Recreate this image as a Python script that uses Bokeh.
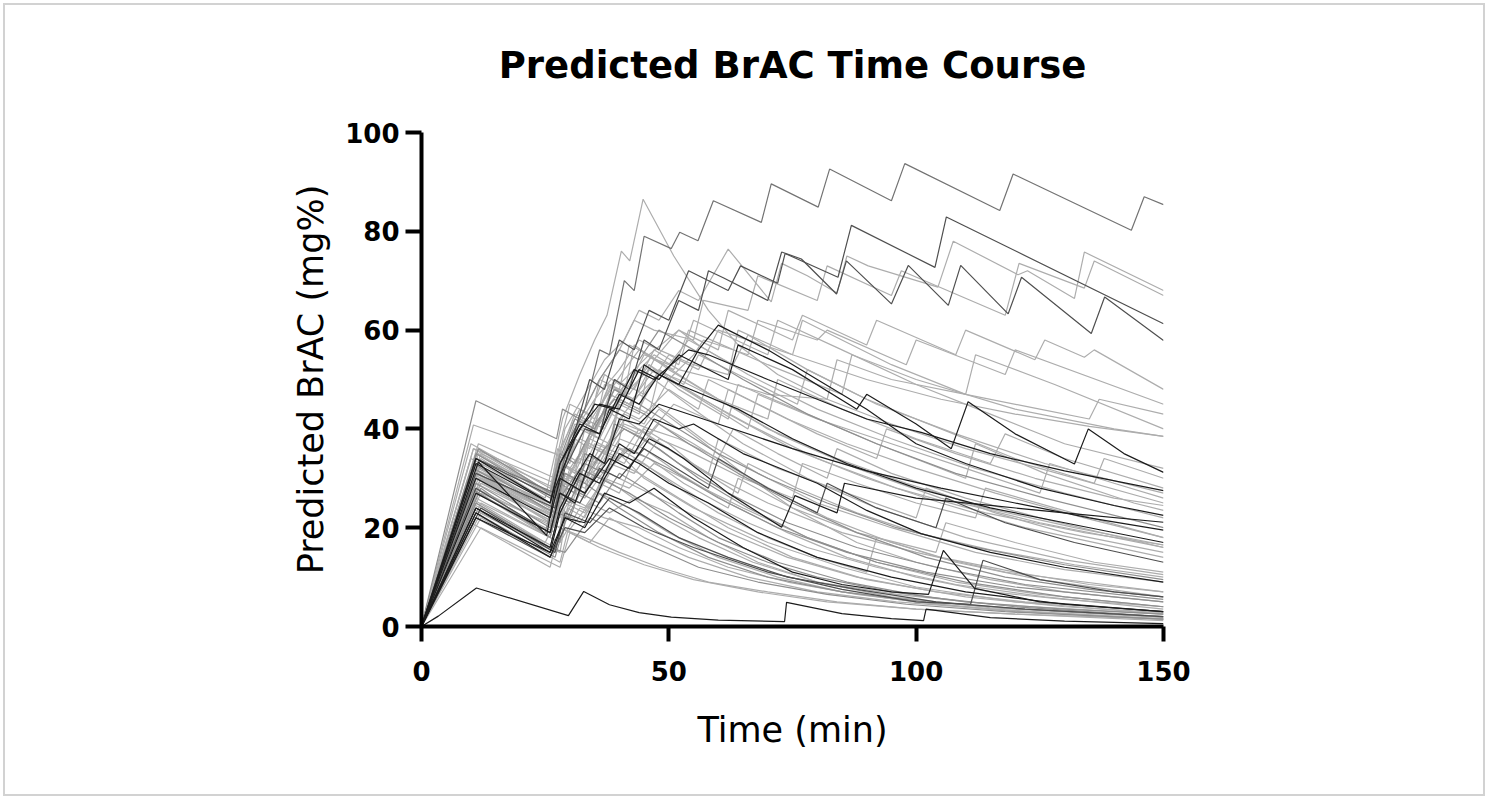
from bokeh.plotting import figure
from bokeh.models import Range1d, FixedTicker, InlineStyleSheet
from bokeh.embed import file_html
from bokeh.resources import INLINE

# ---------------- data ----------------
title_text = "Predicted BrAC Time Course"
x_label = "Time (min)"
y_label = "Predicted BrAC (mg%)"
x_ticks = [0, 50, 100, 150]
y_ticks = [0, 20, 40, 60, 80, 100]

t01 = [0, 11, 27, 30, 33, 36, 38, 41, 43, 45, 50.5, 52.2, 55.9, 59, 68.7, 70.7, 80.2, 82.5, 95, 97.7, 116.9, 119.6, 143.5, 146.1, 150]
v01 = [0, 34, 27, 38, 44, 56, 55, 70, 68, 79, 76.5, 79.8, 78.1, 86.2, 81.8, 89.6, 84.9, 92.6, 86.2, 93.7, 84.2, 91.6, 80.2, 87, 85.4]
t02 = [0, 10.5, 27, 28.5, 32, 35, 37.5, 40.4, 42.1, 44.8, 51, 58, 64, 72, 82, 95, 110, 125, 150]
v02 = [0, 40.8, 35, 42, 51, 58, 63, 76, 74, 86.5, 75, 64, 57, 51, 46, 41, 36, 32, 25]
t03 = [0, 11, 27, 30, 34, 37, 40, 43, 46, 50, 54, 62, 64.5, 72, 73.5, 84.2, 86.9, 103.8, 106.1, 150]
v03 = [0, 34, 26, 36, 50, 48, 58, 56, 64, 62, 72, 68, 73, 69.5, 75.5, 70.7, 81.2, 72.7, 82.9, 61.3]
t04 = [0, 11, 27, 29, 33, 36, 39, 42, 45, 48, 52, 56, 58, 61, 70, 72.8, 76.8, 83.9, 85.9, 95, 98.4, 106.5, 109, 118.6, 121.3, 135.4, 138.1, 150]
v04 = [0, 31, 24, 32, 40, 39, 50, 48, 58, 56, 66, 64, 72, 70.6, 66, 75.8, 74.4, 67.3, 74, 65.3, 73.1, 65, 73.1, 63.3, 70.7, 59.3, 66.7, 57.9]
t05 = [0, 11.5, 27, 29, 33, 37, 41, 44, 48, 52, 56, 62, 70.7, 72.8, 78, 84, 86, 90.3, 104.4, 107.5, 120.6, 122.5, 132, 134, 150]
v05 = [0, 37, 30, 40, 47, 54, 58, 64, 62, 68, 66, 76.4, 65.7, 73.5, 71, 67.5, 75, 73, 68.7, 78, 71.2, 72, 66.4, 75.8, 68]
t06 = [0, 12, 27, 29, 33, 36, 40, 43, 47, 55, 57, 66, 68, 80, 82, 95, 97, 118, 120.8, 134, 136, 150]
v06 = [0, 35, 28, 36, 44, 50, 56, 62, 60, 58, 66, 64, 71, 66, 73, 67, 72, 63, 73.5, 68.5, 74, 67]
t07 = [0, 10, 26, 29, 33, 37, 41, 44, 47, 52, 60, 62, 75, 77, 90, 92, 108, 110, 124, 126, 134, 136, 150]
v07 = [0, 32, 25, 33, 40, 46, 52, 56, 54, 60, 56, 64, 58, 63, 57, 62, 55, 60, 54, 58, 54.5, 56, 48]
t08 = [0, 11, 27, 30, 34, 38, 42, 46, 50, 55, 57, 66, 68, 80, 82, 98, 100, 118, 120, 150]
v08 = [0, 30, 23, 32, 38, 44, 48, 52, 50, 55, 58, 55, 62, 58, 60, 53, 58, 51, 56, 45]
t09 = [0, 12, 28, 30, 34, 38, 42, 47, 52, 60, 70, 82, 84, 95, 110, 125, 135, 137, 150]
v09 = [0, 29, 22, 31, 38, 45, 50, 55, 52, 50, 47, 46, 54, 50, 47, 44, 42, 46, 43]
t10 = [0, 10.5, 27, 30, 35, 40, 44, 48, 55, 62, 64, 75, 90, 105, 120, 135, 150]
v10 = [0, 36, 29, 38, 46, 52, 58, 56, 53, 51, 60, 55, 50, 46, 43, 40.5, 38.5]
t11 = [0, 11, 26, 28, 32, 36, 40, 44, 48, 52, 62, 64, 75, 88, 90, 100, 107.1, 110.5, 120, 132, 134.8, 142, 150]
v11 = [0, 33, 25, 33, 40, 45, 44, 52, 50, 55, 50, 57, 52, 44, 47, 41, 36, 45.5, 39, 32.9, 40, 35, 31.2]
t12 = [0, 11.5, 25.3, 27, 31, 35, 39, 43, 47, 54, 58, 70, 80, 90, 101, 115, 130, 150]
v12 = [0, 33.3, 18.4, 28, 38, 45, 44, 52, 50, 56, 55, 50, 46, 42, 39.3, 35, 31.5, 27.5]
t13 = [0, 11, 26, 28, 33, 38, 42, 46, 50, 53, 62, 72.8, 75.5, 84, 85.5, 100, 115, 130, 150]
v13 = [0, 30, 22, 30, 27, 34, 32, 38, 36, 34, 27, 20.1, 26.5, 23, 29, 26, 24.5, 23, 21.1]
t14 = [0, 11, 26, 28, 31, 34, 37, 40, 44, 48, 60, 75, 90, 105, 120, 135, 150]
v14 = [0, 24, 16, 24, 30, 35, 33, 42, 41, 45, 41, 36, 31.5, 28, 25, 22, 19.5]
t15 = [0, 11, 26, 28, 32, 36, 40, 43, 47, 52, 55, 65, 80, 90, 101, 115, 130, 150]
v15 = [0, 22, 15, 23, 31, 29, 37, 35, 42, 40, 41, 35, 29, 23.5, 18.8, 15, 12, 9]
t16 = [0, 11, 26, 29, 33, 37, 42, 47, 55, 65, 75, 85, 95, 102.5, 105.5, 111.8, 125, 150]
v16 = [0, 24, 15, 22, 20, 27, 25, 28, 22, 16, 11, 8.5, 7, 6.5, 15.4, 7.7, 5, 3]
t17 = [0, 11, 26, 29, 33, 38, 45, 55, 70, 85, 100, 111, 113.5, 125, 140, 150]
v17 = [0, 22, 14, 20, 19, 24, 20, 16, 11, 7.5, 5, 4.5, 13.4, 9.5, 7, 6]
t18 = [0, 3.4, 11.1, 29.7, 32.8, 38, 44, 50.5, 60, 73.4, 73.8, 85, 95, 101.5, 102, 115, 130, 150]
v18 = [0, 2.1, 7.8, 2.2, 7.1, 4.4, 2.8, 1.9, 1.3, 1.0, 4.9, 2.6, 1.6, 1.2, 3.5, 1.8, 1.1, 0.6]
t19 = [0, 12, 26, 28, 32, 36, 42, 50, 60, 70, 80, 95, 110, 130, 150]
v19 = [0, 28, 18, 26, 32, 30, 27, 22, 17, 13, 10, 7, 5, 3.5, 2.5]
t20 = [0, 10, 27, 29, 33, 38, 44, 52, 62, 75, 90, 110, 130, 150]
v20 = [0, 25, 16, 24, 30, 34, 31, 26, 20, 14, 9.5, 6, 4, 2.8]
t21 = [0, 11.5, 26, 28, 31, 35, 40, 45, 55, 70, 85, 100, 120, 150]
v21 = [0, 31, 22, 30, 28, 37, 35, 30, 24, 17, 12, 8, 5, 2.5]
t22 = [0, 12, 28, 29.5, 34, 38, 43, 50, 58, 68, 80, 95, 115, 150]
v22 = [0, 22, 13, 19, 25, 23, 26, 23, 18, 13, 9, 6, 3.8, 1.8]
t23 = [0, 10.5, 25, 30, 33, 37, 41, 48, 56, 66, 78, 92, 110, 130, 150]
v23 = [0, 33, 24, 22, 30, 36, 40, 36, 30, 24, 18, 13, 9, 6, 4]
t24 = [0, 11, 27, 28.5, 32, 36, 40, 44, 48, 56, 65, 75, 88, 100, 115, 130, 150]
v24 = [0, 27, 19, 28, 34, 33, 41, 39, 44, 38, 31, 24, 17, 13, 9.5, 7, 5]
t25 = [0, 12, 26, 29, 33, 37, 40, 45, 52, 62, 74, 86, 100, 115, 130, 150]
v25 = [0, 30, 21, 29, 27, 33, 38, 36, 31, 25, 19, 14, 10, 7, 5.5, 4]
t26 = [0, 10, 27, 29, 32, 36, 42, 50, 60, 72, 85, 100, 120, 150]
v26 = [0, 24, 15, 23, 21, 27, 24, 19, 14, 10, 7, 5, 3, 1.5]
t27 = [0, 11.5, 26, 28, 31, 35, 39, 45, 54, 64, 75, 88, 102, 118, 135, 150]
v27 = [0, 36, 27, 35, 33, 41, 46, 43, 37, 31, 25, 19, 14, 10, 7.5, 6]
t28 = [0, 11, 27, 29, 33, 37, 41, 46, 52, 60, 63, 72, 82, 84, 95, 110, 125, 150]
v28 = [0, 29, 21, 29, 37, 35, 42, 40, 38, 34, 40, 35, 30, 36, 31, 26, 22, 16]
t29 = [0, 10.5, 26, 28, 32, 36, 40, 44, 50, 56, 58, 68, 80, 92, 94, 108, 124, 140, 150]
v29 = [0, 32, 23, 31, 38, 36, 44, 42, 48, 44, 50, 45, 39, 34, 40, 35, 30, 26, 24.5]
t30 = [0, 11, 27, 29, 33, 38, 43, 48, 55, 65, 75, 77, 88, 100, 112, 114, 128, 150]
v30 = [0, 28, 20, 28, 26, 33, 31, 38, 35, 30, 26, 33, 29, 25, 22, 28, 24, 18]
t31 = [0, 12, 26, 28, 31, 35, 38, 42, 47, 52, 60, 70, 72, 85, 100, 115, 118, 130, 150]
v31 = [0, 34, 25, 33, 41, 39, 47, 45, 52, 50, 46, 42, 50, 44, 38, 33, 39, 34, 28]
t32 = [0, 11, 27, 29, 33, 37, 41, 45, 50, 58, 66, 68, 80, 95, 110, 125, 127, 140, 150]
v32 = [0, 31, 23, 31, 29, 36, 43, 41, 50, 45, 40, 47, 42, 37, 32, 27, 33, 29, 26]
t33 = [0, 11, 26, 28, 32, 36, 40, 44, 48, 53, 56, 66, 76, 78, 90, 105, 120, 136, 138, 150]
v33 = [0, 33, 24, 32, 40, 38, 46, 44, 52, 49, 55, 50, 45, 52, 46, 40, 34, 29, 34, 30]
t34 = [0, 10, 25, 29, 33, 37, 42, 47, 55, 65, 78, 92, 108, 125, 150]
v34 = [0, 26, 17, 25, 23, 30, 28, 33, 29, 24, 18, 13, 9, 6.5, 4]
t35 = [0, 11, 27, 29, 32, 36, 40, 45, 52, 60, 72, 86, 102, 120, 150]
v35 = [0, 23, 14, 21, 27, 25, 31, 28, 23, 18, 13, 9, 6, 4, 2]
t36 = [0, 11.5, 26, 28, 32, 37, 44, 52, 62, 74, 88, 104, 122, 150]
v36 = [0, 27, 18, 17, 24, 22, 20, 16, 12, 9, 6.5, 4.5, 3, 1.5]
t37 = [0, 12, 28, 30, 34, 38, 45, 54, 66, 80, 96, 115, 150]
v37 = [0, 20, 12, 19, 17, 22, 18, 14, 10, 7, 5, 3.5, 1.5]
t38 = [0, 10, 26, 28, 33, 40, 48, 58, 70, 84, 100, 120, 150]
v38 = [0, 21, 12, 20, 18, 15, 12, 9, 7, 5, 3.5, 2.5, 1.2]
t39 = [0, 11, 26, 29, 34, 40, 47, 56, 68, 82, 98, 118, 150]
v39 = [0, 25, 16, 15, 22, 19, 16, 12, 9, 6.5, 4.5, 3, 1.5]
t40 = [0, 11, 26, 28, 32, 36, 40, 45, 50, 58, 60, 70, 80, 82, 92, 104, 106, 118, 132, 150]
v40 = [0, 28, 19, 27, 25, 32, 30, 36, 33, 28, 34, 28, 23, 29, 24, 20, 26, 21, 17, 13]
t41 = [0, 12, 27, 29, 33, 37, 41, 45, 50, 56, 64, 66, 76, 88, 100, 115, 132, 150]
v41 = [0, 30, 22, 30, 28, 35, 33, 40, 37, 32, 27, 33, 28, 23, 19, 15.5, 12.5, 10]
t42 = [0, 11, 26, 28, 32, 36, 40, 45, 52, 60, 70, 80, 90, 92, 105, 120, 135, 150]
v42 = [0, 25, 16, 24, 31, 29, 36, 33, 28, 23, 18, 14, 11, 18, 14, 11, 8.5, 7]
t43 = [0, 10.5, 28, 29.5, 33, 38, 43, 48, 55, 63, 72, 82, 95, 108, 125, 150]
v43 = [0, 32, 24, 23, 31, 37, 35, 41, 37, 32, 27, 22, 17, 13, 9.5, 6]
t44 = [0, 11, 26, 28, 31, 35, 39, 44, 52, 60, 70, 82, 96, 112, 130, 150]
v44 = [0, 35, 26, 34, 42, 40, 48, 45, 40, 35, 30, 25, 20, 16, 12.5, 9.5]
t45 = [0, 12, 27, 29, 33, 37, 41, 46, 51, 60, 62, 74, 86, 100, 116, 134, 150]
v45 = [0, 29, 21, 29, 27, 34, 41, 39, 45, 41, 48, 42, 37, 32, 27, 22, 18]
t46 = [0, 11, 26, 28, 32, 36, 40, 44, 48, 52, 56, 60, 70, 80, 90, 100, 110, 125, 140, 150]
v46 = [0, 34, 25, 33, 41, 39, 47, 45, 51, 49, 56, 61, 56, 50, 44, 37, 33, 28, 24.5, 22.5]
t47 = [0, 11, 26, 28, 31, 35, 38, 42, 45, 48, 52, 64, 75, 86, 100, 115, 130, 150]
v47 = [0, 27, 19, 27, 25, 36, 44, 42, 53, 51, 49, 44, 38, 33, 28, 24, 21, 17]
t48 = [0, 11, 26, 29, 33, 37, 40, 44, 50, 58, 68, 80, 95, 110, 130, 150]
v48 = [0, 23, 14, 22, 21, 30, 35, 33, 29, 25, 19, 14, 10, 7, 4.5, 3]
t49 = [0, 10, 26, 28, 30, 34, 37, 40, 46, 52, 60, 70, 84, 98, 114, 132, 150]
v49 = [0, 37, 28, 37, 45, 43, 51, 49, 55, 51, 46, 40, 34, 29, 24, 20, 16.5]
t50 = [0, 11, 27.3, 28.5, 32, 36, 40, 44, 48, 55, 65, 78, 92, 108, 126, 150]
v50 = [0, 45.7, 38, 44, 42, 50, 56, 54, 60, 56, 50, 43, 37, 31, 26, 20]
t51 = [0, 11.5, 26, 28, 32, 35, 39, 43, 47, 52, 55, 70, 72, 85, 100, 115, 130, 150]
v51 = [0, 36, 27, 36, 44, 42, 50, 48, 56, 53, 62, 55, 62, 56, 49, 43, 37, 32]
t52 = [0, 11, 27, 29, 33, 37, 41, 45, 50, 56, 60, 75, 77, 95, 110, 112, 128, 150]
v52 = [0, 34, 26, 34, 42, 40, 49, 47, 55, 52, 60, 55, 62, 53, 47, 55, 49, 40]
t53 = [0, 12, 26, 28, 31, 35, 39, 43, 47, 51, 54, 70, 85, 87, 100, 120, 140, 150]
v53 = [0, 33, 25, 33, 31, 40, 48, 46, 54, 52, 60, 53, 47, 55, 50, 44, 40, 38.5]
t54 = [0, 11, 26, 30, 36, 45, 55, 68, 82, 100, 120, 150]
v54 = [0, 30, 21, 19, 16, 12.5, 9.5, 7, 5, 3.5, 2.5, 1.5]
t55 = [0, 10.5, 27, 29, 33, 40, 48, 58, 70, 85, 102, 122, 150]
v55 = [0, 32, 23, 31, 29, 24, 19, 14, 10, 7, 5, 3.5, 2]
t56 = [0, 11, 26, 28, 32, 35, 40, 47, 56, 67, 80, 96, 115, 150]
v56 = [0, 28, 19, 27, 25, 31, 28, 23, 18, 13, 9, 6.5, 4.5, 2.5]
t57 = [0, 12, 27, 29, 34, 38, 44, 52, 62, 74, 88, 104, 122, 150]
v57 = [0, 24, 15, 23, 21, 26, 23, 18, 14, 10, 7.5, 5, 3.5, 2]
t58 = [0, 11, 26, 28, 33, 37, 41, 46, 53, 62, 64, 75, 88, 104, 106, 120, 136, 150]
v58 = [0, 26, 18, 26, 24, 30, 36, 34, 29, 24, 30, 24, 19, 15, 21, 17, 13, 11]
t59 = [0, 10, 27, 29, 32, 36, 40, 44, 50, 58, 60, 72, 86, 100, 102, 116, 130, 150]
v59 = [0, 31, 23, 31, 29, 36, 34, 40, 36, 31, 38, 32, 27, 22, 28, 23, 19, 15]
t60 = [0, 11, 26, 28, 31, 35, 38, 42, 46, 52, 62, 64, 78, 92, 110, 112, 126, 144, 150]
v60 = [0, 35, 27, 35, 43, 41, 49, 47, 53, 48, 42, 49, 43, 37, 30, 37, 31, 25, 23.5]
t61 = [0, 10.5, 26, 27.5, 31, 33, 36, 38, 42, 47, 55, 65, 78, 92, 110, 130, 150]
v61 = [0, 33, 24, 34, 31, 40, 38, 47, 45, 50, 44, 37, 30, 24, 18, 13.5, 10.5]
t62 = [0, 11.5, 27, 28, 32, 34, 38, 40, 44, 46, 52, 62, 75, 90, 105, 122, 150]
v62 = [0, 30, 22, 31, 29, 38, 36, 45, 43, 53, 49, 43, 36, 30, 25, 20, 14]
t63 = [0, 12, 28, 29.5, 33, 35, 39, 41, 48, 58, 70, 85, 100, 118, 150]
v63 = [0, 27, 20, 29, 27, 36, 34, 42, 37, 31, 25, 19, 15, 11, 7]
t64 = [0, 10, 25, 27, 30, 32, 35, 37, 41, 43, 50, 60, 72, 88, 105, 125, 150]
v64 = [0, 34, 26, 35, 33, 42, 40, 49, 47, 57, 52, 46, 39, 32, 26, 21, 16]
t65 = [0, 11, 26, 28, 31, 33, 37, 39, 45, 52, 62, 74, 88, 104, 122, 150]
v65 = [0, 29, 20, 29, 27, 35, 33, 41, 38, 33, 27, 21, 16, 12, 8.5, 5.5]
t66 = [0, 11.5, 27, 28.5, 32, 34, 38, 40, 46, 48, 55, 66, 80, 96, 114, 134, 150]
v66 = [0, 32, 24, 33, 31, 39, 37, 46, 43, 51, 47, 41, 34, 28, 23, 19, 16.5]
t67 = [0, 10.5, 26, 27.5, 30, 32, 34, 36, 40, 42, 46, 52, 56, 66, 80, 95, 112, 130, 150]
v67 = [0, 36, 27, 36, 34, 43, 41, 50, 48, 57, 55, 60, 57, 51, 44, 38, 32, 27, 22]
t68 = [0, 12, 28, 30, 34, 38, 44, 52, 62, 74, 88, 104, 122, 150]
v68 = [0, 25, 17, 26, 24, 31, 28, 24, 19, 14, 10, 7, 5, 3]
t69 = [0, 11, 26, 28, 31, 34, 37, 40, 44, 50, 58, 68, 80, 95, 112, 130, 150]
v69 = [0, 31, 22, 30, 38, 36, 44, 42, 47, 43, 37, 31, 25, 20, 15, 11.5, 9]
t70 = [0, 10, 25, 27, 30, 33, 37, 42, 50, 60, 72, 86, 102, 120, 150]
v70 = [0, 28, 19, 27, 25, 33, 31, 36, 32, 26, 20, 15, 11, 8, 5]
t71 = [0, 11.5, 27, 29, 32, 35, 38, 41, 45, 50, 54, 63, 66, 78, 92, 108, 126, 150]
v71 = [0, 35, 26, 35, 33, 42, 49, 47, 55, 53, 58, 53, 59, 52, 45, 39, 33, 27]
t72 = [0, 12, 28, 29.5, 33, 36, 40, 43, 48, 56, 66, 78, 92, 108, 126, 150]
v72 = [0, 23, 15, 24, 22, 29, 27, 34, 31, 26, 21, 16, 12, 8.5, 6, 3.5]

# ---------------- styles (kept apart from the data) ----------------
SHADES = {"LG": "#adadad", "MG": "#8f8f8f", "G": "#737373", "DG": "#4f4f4f", "K": "#1c1c1c"}
shade_of = ["G", "LG", "DG", "DG", "LG", "LG", "LG", "LG", "LG", "LG",
            "K", "K", "K", "K", "K", "K", "DG", "K", "MG", "LG",
            "LG", "LG", "MG", "LG", "LG", "LG", "MG", "LG", "LG", "LG",
            "LG", "LG", "LG", "LG", "MG", "LG", "LG", "LG", "MG", "DG",
            "LG", "LG", "LG", "MG", "LG", "K", "K", "K", "LG", "MG",
            "LG", "LG", "LG", "LG", "MG", "LG", "DG", "LG", "LG", "LG",
            "LG", "LG", "LG", "LG", "MG", "LG", "LG", "LG", "LG", "MG",
            "LG", "LG"]
draw_order = ["LG", "MG", "G", "DG", "K"]
N_SERIES = 72

g = globals()
series = []
for i in range(1, N_SERIES + 1):
    ts, vs = g["t%02d" % i], g["v%02d" % i]
    if len(ts) != len(vs):
        raise ValueError("length mismatch in series %d: %d vs %d" % (i, len(ts), len(vs)))
    series.append((ts, vs, shade_of[i - 1]))

p = figure(width=1488, height=799, output_backend="svg", toolbar_location=None,
           x_range=Range1d(0, 150), y_range=Range1d(0, 100),
           min_border_left=421, min_border_right=325, min_border_top=132, min_border_bottom=173,
           title=title_text)
p.background_fill_color = "white"
p.border_fill_color = None
p.outline_line_color = None
p.xgrid.visible = False
p.ygrid.visible = False
frame_css = (":host { box-shadow: inset 0 0 0 3px #ffffff, inset 0 0 0 5px #d2d2d2; "
             "background-color: #ffffff; }")
p.stylesheets = [InlineStyleSheet(css=frame_css)]
p.styles = {"box-shadow": "inset 0 0 0 3px #ffffff, inset 0 0 0 5px #d2d2d2",
            "background-color": "#ffffff"}

p.title.align = "center"
p.title.vertical_align = "top"
p.title.text_font = "DejaVu Sans"
p.title.text_font_style = "bold"
p.title.text_font_size = "37px"
p.title.text_color = "black"
p.title.standoff = 87

for shade in draw_order:
    for ts, vs, sh in series:
        if sh == shade:
            p.line(ts, vs, line_color=SHADES[sh], line_width=1.2)

for ax in (p.xaxis[0], p.yaxis[0]):
    ax.axis_line_width = 4
    ax.axis_line_color = "black"
    ax.major_tick_line_width = 4
    ax.major_tick_line_color = "black"
    ax.major_tick_in = 0
    ax.minor_tick_line_color = None
    ax.major_label_text_font = "DejaVu Sans"
    ax.major_label_text_font_style = "bold"
    ax.major_label_text_font_size = "26px"
    ax.major_label_text_color = "black"
    ax.axis_label_text_font = "DejaVu Sans"
    ax.axis_label_text_font_style = "normal"
    ax.axis_label_text_font_size = "35px"
    ax.axis_label_text_color = "black"

p.xaxis.ticker = FixedTicker(ticks=x_ticks)
p.yaxis.ticker = FixedTicker(ticks=y_ticks)
p.xaxis.major_tick_out = 15
p.yaxis.major_tick_out = 16
p.xaxis.major_label_standoff = 19
p.yaxis.major_label_standoff = 6
p.xaxis.axis_label = x_label
p.yaxis.axis_label = y_label
p.xaxis.axis_label_standoff = 26
p.yaxis.axis_label_standoff = 11

open("out.html", "w").write(file_html(p, INLINE))
